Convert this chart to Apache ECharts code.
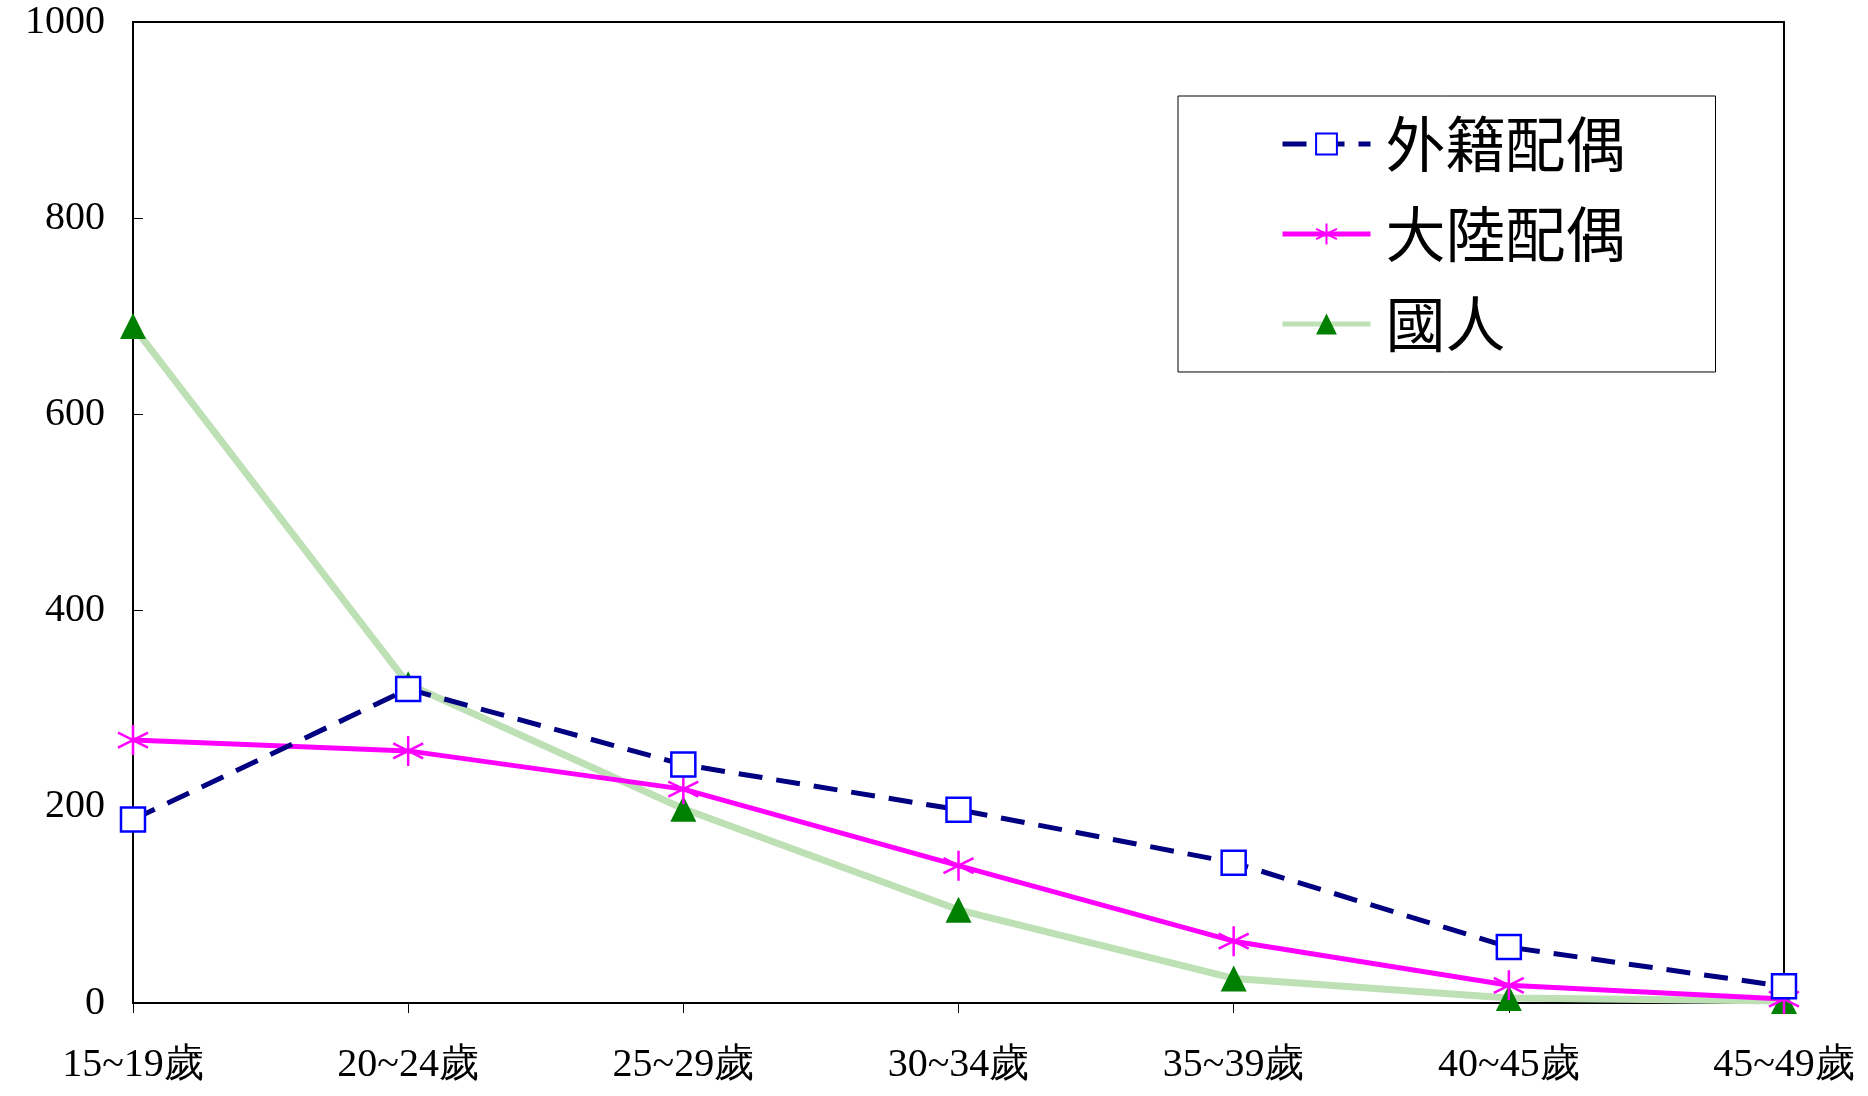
<!DOCTYPE html>
<html><head><meta charset="utf-8">
<script src="https://cdn.jsdelivr.net/npm/echarts@6/dist/echarts.min.js"></script>
<style>html,body{margin:0;background:#fff}#chart{width:1868px;height:1096px}</style>
</head><body><div id="chart"></div>
<script>
const categories = ['15~19歲', '20~24歲', '25~29歲', '30~34歲', '35~39歲', '40~45歲', '45~49歲'];
const foreign = [187, 320, 243, 197, 143, 57, 17];
const mainland = [268, 257, 218, 140, 63, 18, 4];
const native = [690, 325, 198, 95, 25, 5, 2];
const yTicks = [0, 200, 400, 600, 800, 1000];

const star = 'path://M0,-10L0,10M-8.66,-5L8.66,5M-8.66,5L8.66,-5';
const font = '"Liberation Serif", serif';

const myChart = echarts.init(document.getElementById('chart'));
const option = {
  animation: false,
  grid: { left: 133, right: 84, top: 22, bottom: 93 },
  legend: {
    orient: 'vertical',
    left: 1178, top: 96,
    padding: [18, 90, 18, 102],
    itemWidth: 88, itemHeight: 26, itemGap: 30,
    borderColor: '#000', borderWidth: 1,
    lineStyle: { width: 5 },
    textStyle: { fontFamily: '"Noto Sans CJK TC", sans-serif', fontSize: 60, color: '#000', padding: [0, 0, 0, 10] },
    data: ['外籍配偶', '大陸配偶', '國人']
  },
  xAxis: {
    type: 'category', data: categories, boundaryGap: false,
    axisLine: { lineStyle: { color: '#000', width: 2 } },
    axisTick: { show: true, length: 10, lineStyle: { color: '#000' } },
    axisLabel: { fontFamily: font, fontSize: 40, color: '#000', margin: 42, interval: 0 },
    splitLine: { show: false }
  },
  yAxis: {
    type: 'value', min: 0, max: 1000, interval: 200,
    axisLine: { show: true, lineStyle: { color: '#000', width: 2 } },
    axisTick: { show: true, length: -10, lineStyle: { color: '#000' } },
    axisLabel: { fontFamily: font, fontSize: 40, color: '#000', margin: 28,
      formatter: v => yTicks.includes(v) ? String(v) : '' },
    splitLine: { show: false }
  },
  graphic: [{
    type: 'rect', shape: { x: 133, y: 22, width: 1651, height: 981 },
    style: { fill: 'none', stroke: '#000', lineWidth: 2 }, silent: true
  }],
  series: [
    {
      name: '國人', type: 'line', data: native,
      lineStyle: { color: '#bde0b5', width: 7 },
      symbol: 'triangle', symbolSize: 26,
      itemStyle: { color: '#008000' }, z: 1
    },
    {
      name: '大陸配偶', type: 'line', data: mainland,
      lineStyle: { color: '#ff00ff', width: 5 },
      symbol: star, symbolSize: 30,
      itemStyle: { color: '#ff00ff', borderColor: '#ff00ff', borderWidth: 2.5 }, z: 2
    },
    {
      name: '外籍配偶', type: 'line', data: foreign,
      lineStyle: { color: '#000080', width: 5, type: [24, 14] },
      symbol: 'rect', symbolSize: 24,
      itemStyle: { color: '#fff', borderColor: '#0000ff', borderWidth: 2.5 }, z: 3
    }
  ]
};
myChart.setOption(option);
</script></body></html>
